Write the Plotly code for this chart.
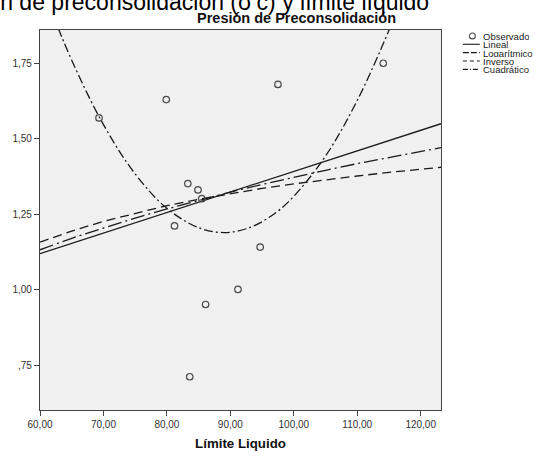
import plotly.graph_objects as go

# Observed data (Límite Líquido vs Presión de Preconsolidación)
obs_x = [69.3, 79.9, 81.2, 83.3, 84.9, 85.5, 83.6, 86.1, 91.2, 94.7, 97.5, 114.1]
obs_y = [1.569, 1.630, 1.212, 1.352, 1.331, 1.302, 0.713, 0.952, 1.002, 1.142, 1.680, 1.750]

# Fitted curves, values
fit_x = [60, 65, 70, 75, 80, 85, 90, 95, 100, 105, 110, 115, 120, 123.2]
lineal_y = [1.120, 1.154, 1.188, 1.222, 1.256, 1.290, 1.324, 1.358, 1.392, 1.426, 1.460, 1.494, 1.528, 1.550]
log_y = [1.133, 1.171, 1.205, 1.238, 1.268, 1.297, 1.324, 1.349, 1.373, 1.396, 1.418, 1.439, 1.459, 1.471]
inv_y = [1.158, 1.195, 1.227, 1.254, 1.279, 1.300, 1.319, 1.336, 1.351, 1.365, 1.377, 1.389, 1.399, 1.406]
quad_x = [60, 62, 65, 70, 75, 80, 85, 89, 93, 97, 100, 105, 110, 115, 117]
quad_y = [2.023, 1.912, 1.760, 1.547, 1.384, 1.270, 1.206, 1.190, 1.206, 1.253, 1.310, 1.443, 1.627, 1.859, 1.966]

x_ticks = [60, 70, 80, 90, 100, 110, 120]
x_ticktext = ["60,00", "70,00", "80,00", "90,00", "100,00", "110,00", "120,00"]
y_ticks = [0.75, 1.00, 1.25, 1.50, 1.75]
y_ticktext = [",75", "1,00", "1,25", "1,50", "1,75"]

legend_names = ["Observado", "Lineal", "Logarítmico", "Inverso", "Cuadrático"]

FONT = "Liberation Sans, Arial, sans-serif"
LC = "#1a1a1a"

fig = go.Figure()
fig.add_trace(go.Scatter(x=fit_x, y=inv_y, mode="lines",
                         line=dict(color=LC, width=1.3, dash="9px,5px"), name="Inverso"))
fig.add_trace(go.Scatter(x=fit_x, y=log_y, mode="lines",
                         line=dict(color=LC, width=1.3, dash="14px,4px,2px,4px"), name="Logarítmico"))
fig.add_trace(go.Scatter(x=quad_x, y=quad_y, mode="lines", line_shape="spline",
                         line=dict(color=LC, width=1.3, dash="9px,3px,2px,3px"), name="Cuadrático"))
fig.add_trace(go.Scatter(x=fit_x, y=lineal_y, mode="lines",
                         line=dict(color=LC, width=1.3), name="Lineal"))
fig.add_trace(go.Scatter(x=obs_x, y=obs_y, mode="markers", name="Observado",
                         marker=dict(symbol="circle-open", size=6.5, color="#4a4a4a",
                                     line=dict(width=1.2, color="#4a4a4a"))))

W, H = 535, 460
L, R, T, B = 38, 94, 30, 44
pw, ph = W - L - R, H - T - B

def px(xp):
    return (xp - L) / pw

def py(yp):
    return (H - B - yp) / ph

shapes = []
annotations = []
# custom compact legend
rows_y = [36, 44.5, 53, 61.5, 70]
dashes = [None, "solid", "6px,2px", "4px,3px", "5px,2px,1px,2px"]
for i, name in enumerate(legend_names):
    yy = py(rows_y[i])
    if i == 0:
        shapes.append(dict(type="circle", xref="paper", yref="paper",
                           x0=px(469.5), x1=px(475.5), y0=py(rows_y[i] + 3), y1=py(rows_y[i] - 3),
                           line=dict(color="#4a4a4a", width=1.1)))
    else:
        shapes.append(dict(type="line", xref="paper", yref="paper",
                           x0=px(463), x1=px(480), y0=yy, y1=yy,
                           line=dict(color=LC, width=1.1, dash=dashes[i])))
    annotations.append(dict(text=name, xref="paper", yref="paper", x=px(481), y=yy,
                            xanchor="left", yanchor="middle", showarrow=False, height=8,
                            font=dict(family=FONT, size=9.5, color="#222")))

# chart title
annotations.append(dict(text="<b>Presión de Preconsolidación</b>", xref="paper", yref="paper",
                        x=px(296), y=py(18), xanchor="center", yanchor="middle", showarrow=False,
                        font=dict(family=FONT, size=14.5, color="#111")))
# clipped document caption above the chart
annotations.append(dict(text="Presión de preconsolidación (σ'c) y límite líquido", xref="paper", yref="paper",
                        x=px(-70), y=py(17), xanchor="left", yanchor="bottom", showarrow=False,
                        font=dict(family=FONT, size=23, color="#000")))

fig.update_layout(
    width=W, height=H,
    margin=dict(l=L, r=R, t=T, b=B),
    paper_bgcolor="white", plot_bgcolor="#f0f0f0",
    showlegend=False,
    font=dict(family=FONT, size=10, color="#333"),
    shapes=shapes, annotations=annotations,
)
fig.update_xaxes(range=[60, 123.2], tickvals=x_ticks, ticktext=x_ticktext,
                 ticks="outside", ticklen=5, tickcolor="#444", showgrid=False, zeroline=False,
                 showline=True, linecolor="#444", linewidth=1.2, mirror=True,
                 title=dict(text="<b>Límite Liquido</b>", font=dict(family=FONT, size=13.3, color="#111"), standoff=9),
                 tickfont=dict(size=10, color="#333"))
fig.update_yaxes(range=[0.603, 1.86], tickvals=y_ticks, ticktext=y_ticktext,
                 ticks="outside", ticklen=5, tickcolor="#444", showgrid=False, zeroline=False,
                 showline=True, linecolor="#444", linewidth=1.2, mirror=True,
                 tickfont=dict(size=10, color="#333"))

fig.write_html("out.html", config={"displayModeBar": False},
               post_script="document.body.style.margin='0';document.body.style.overflow='hidden';")
